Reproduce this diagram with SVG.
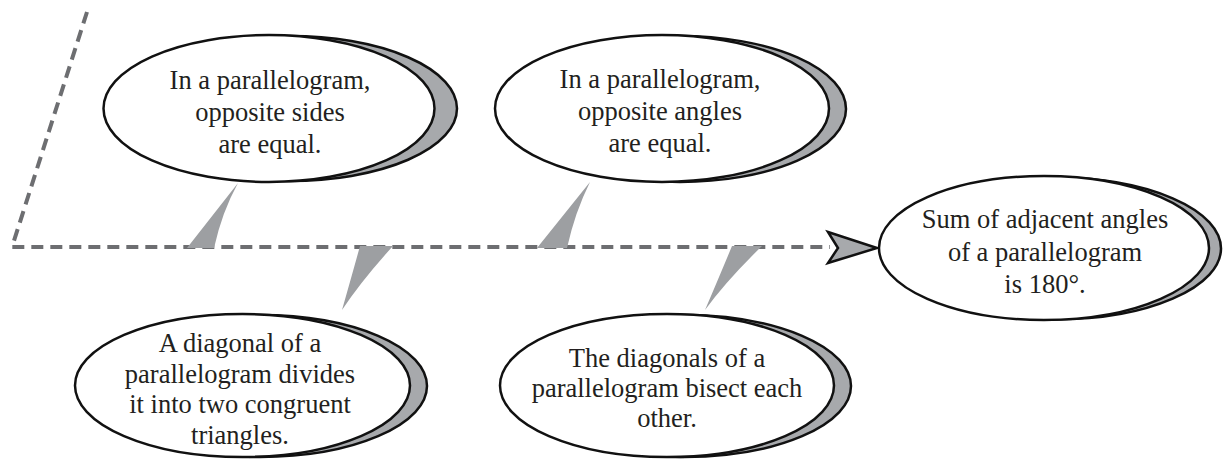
<svg xmlns="http://www.w3.org/2000/svg" width="1223" height="459" viewBox="0 0 1223 459">
<style>
.bg{fill:#ffffff}
.dash{fill:none;stroke:#6d6e71;stroke-width:4;stroke-dasharray:12 7}
.tri{fill:#9d9fa2;stroke:none}
.head{fill:#a7a9ac;stroke:#111;stroke-width:2.5;stroke-linejoin:miter}
.shadow{fill:#a7a9ac;stroke:#111;stroke-width:2.5}
.ell{fill:#ffffff;stroke:#111;stroke-width:2.5}
.t{font-family:"Liberation Serif","Times New Roman",serif;font-size:26.5px;fill:#231f20;text-anchor:middle}
</style>
<rect class="bg" x="0" y="0" width="1223" height="459"/>
<g id="connectors">
<path class="dash" d="M87,12 L12,247 L830,247"/>
<path class="head" d="M828,232 L877,248 L828,263 L838,248 Z"/>
<path class="tri" d="M187,248 L238,183 Q222,212 214,248 Z"/>
<path class="tri" d="M360,246 L393,246 Q362,280 342,310 Q352,275 360,246 Z"/>
<path class="tri" d="M537,248 L590,182 Q575,212 567,248 Z"/>
<path class="tri" d="M732,246 L762,246 Q727,280 705,310 Q720,275 732,246 Z"/>
</g>
<g id="node1">
<ellipse class="shadow" cx="290" cy="108.5" rx="167" ry="72.5"/>
<ellipse class="ell" cx="269" cy="108.5" rx="165.5" ry="73.5"/>
<text class="t" x="270" y="89">In a parallelogram,</text>
<text class="t" x="270" y="121">opposite sides</text>
<text class="t" x="270" y="153">are equal.</text>
</g>
<g id="node2">
<ellipse class="shadow" cx="680" cy="109" rx="166" ry="73"/>
<ellipse class="ell" cx="662" cy="108.5" rx="167" ry="73.5"/>
<text class="t" x="660" y="88">In a parallelogram,</text>
<text class="t" x="660" y="120">opposite angles</text>
<text class="t" x="660" y="152">are equal.</text>
</g>
<g id="node3">
<ellipse class="shadow" cx="260" cy="386" rx="167" ry="71"/>
<ellipse class="ell" cx="242.5" cy="385.5" rx="167.5" ry="71.5"/>
<text class="t" x="240" y="352">A diagonal of a</text>
<text class="t" x="240" y="382.5">parallelogram divides</text>
<text class="t" x="240" y="413">it into two congruent</text>
<text class="t" x="240" y="443.5">triangles.</text>
</g>
<g id="node4">
<ellipse class="shadow" cx="684" cy="386" rx="167" ry="71"/>
<ellipse class="ell" cx="667" cy="385.5" rx="167" ry="71.5"/>
<text class="t" x="667" y="367">The diagonals of a</text>
<text class="t" x="667" y="397">parallelogram bisect each</text>
<text class="t" x="667" y="427">other.</text>
</g>
<g id="node5">
<ellipse class="shadow" cx="1056" cy="248.5" rx="165" ry="71"/>
<ellipse class="ell" cx="1044" cy="248" rx="165" ry="72"/>
<text class="t" x="1045" y="228">Sum of adjacent angles</text>
<text class="t" x="1045" y="261">of a parallelogram</text>
<text class="t" x="1045" y="293">is 180°.</text>
</g>
</svg>
